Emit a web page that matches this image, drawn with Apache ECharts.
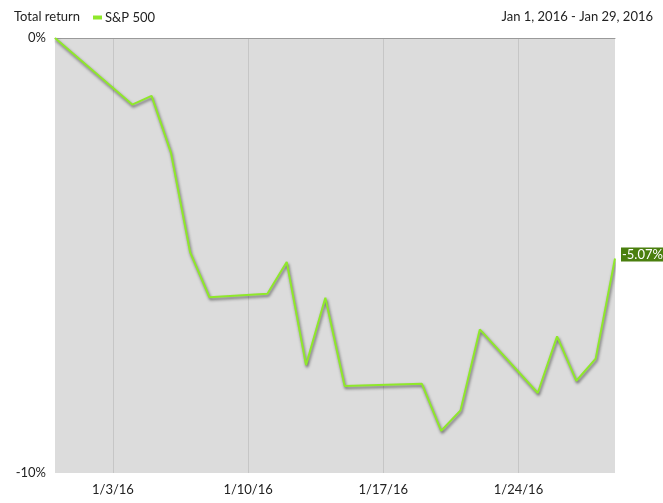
<!DOCTYPE html>
<html>
<head>
<meta charset="utf-8">
<script src="https://cdn.jsdelivr.net/npm/echarts@6/dist/echarts.min.js"></script>
<style>
  html, body { margin: 0; padding: 0; background: #fff; }
  #chart { width: 663px; height: 503px; }
</style>
</head>
<body>
<div id="chart"></div>
<script>
   // data
   var dates = ['2015-12-31', '2016-01-04', '2016-01-05', '2016-01-06', '2016-01-07', '2016-01-08',
                '2016-01-11', '2016-01-12', '2016-01-13', '2016-01-14', '2016-01-15',
                '2016-01-19', '2016-01-20', '2016-01-21', '2016-01-22',
                '2016-01-25', '2016-01-26', '2016-01-27', '2016-01-28', '2016-01-29'];
   var spReturn = [0, -1.53, -1.33, -2.63, -4.93, -5.96,
                   -5.88, -5.15, -7.52, -5.97, -8.00,
                   -7.95, -9.03, -8.56, -6.70,
                   -8.16, -6.86, -7.88, -7.37, -5.07];
   var tickDates = ['2016-01-03', '2016-01-10', '2016-01-17', '2016-01-24'];
   var yTicks = [-10, 0];

   var DAY = 86400000;
   function ts(s){
      var p = s.split('-');
      return Date.UTC(+p[0], +p[1] - 1, +p[2]);
   }
   var base = ts(dates[0]);
   // x = days since first date
   function dayNo(s){ return Math.round((ts(s) - base) / DAY); }
   var tickValues = tickDates.map(dayNo);
   var seriesData = dates.map(function(d, i){ return [dayNo(d), spReturn[i]]; });
   var fontFam = 'Lato, "Open Sans", sans-serif';

   var chart = echarts.init(document.getElementById('chart'));
   var option = {
      animation: false,
      textStyle: { fontFamily: fontFam },
      title: [
         { text: 'Total return', left: 9, top: 5,
           textStyle: { fontSize: 13, fontWeight: 'normal', color: '#222', fontFamily: fontFam } },
         { text: 'Jan 1, 2016 - Jan 29, 2016', right: 5, top: 5,
           textStyle: { fontSize: 13, fontWeight: 'normal', color: '#222', fontFamily: fontFam } }
      ],
      legend: {
         left: 88, top: 6,
         itemWidth: 9, itemHeight: 4, itemGap: 4,
         icon: 'rect',
         textStyle: { fontSize: 13, color: '#222', fontFamily: fontFam, padding: [0, 0, 0, -2] },
         data: [{ name: 'S&P 500', itemStyle: { color: '#8fe82a' } }]
      },
      grid: {
         show: true,
         left: 55, right: 48, top: 38, bottom: 30,
         backgroundColor: '#dcdcdc',
         borderWidth: 0
      },
      xAxis: [
         {
            type: 'value',
            min: 0,
            max: dayNo(dates[dates.length - 1]),
            axisLine: { show: false },
            axisTick: { show: false, customValues: tickValues },
            splitLine: { show: true, lineStyle: { color: '#c6c6c6', width: 1 } },
            axisLabel: {
               customValues: tickValues,
               color: '#222', fontSize: 13, margin: 10, fontFamily: fontFam,
               formatter: function(v){
                  var d = new Date(base + v * DAY);
                  return (d.getUTCMonth() + 1) + '/' + d.getUTCDate() + '/' + String(d.getUTCFullYear()).slice(2);
               }
            }
         },
         {
            type: 'value',
            position: 'top',
            min: 0,
            max: dayNo(dates[dates.length - 1]),
            axisLine: { show: true, lineStyle: { color: '#9a9a9a', width: 1 } },
            axisTick: { show: false },
            axisLabel: { show: false },
            splitLine: { show: false }
         }
      ],
      yAxis: {
         type: 'value',
         min: yTicks[0],
         max: yTicks[1],
         interval: 10,
         axisLine: { show: false },
         axisTick: { show: false },
         splitLine: { show: false },
         axisLabel: { color: '#222', fontSize: 13, margin: 9, fontFamily: fontFam,
                      formatter: '{value}%' }
      },
      series: [
         {
            name: 'S&P 500',
            type: 'line',
            xAxisIndex: 0,
            data: seriesData,
            symbol: 'none',
            lineStyle: {
               color: '#8fe82a', width: 2,
               shadowColor: 'rgba(0,0,0,0.55)', shadowBlur: 3, shadowOffsetX: 1, shadowOffsetY: 2
            },
            itemStyle: { color: '#8fe82a' },
            endLabel: {
               show: true,
               formatter: function(p){ return p.value[1].toFixed(2) + '%'; },
               backgroundColor: '#4a7f0e',
               color: '#fff',
               fontSize: 13,
               fontFamily: fontFam,
               padding: [1, 1, 0, 1],
               distance: 6,
               offset: [0, -4]
            }
         }
      ]
   };
   chart.setOption(option);
</script>
</body>
</html>
